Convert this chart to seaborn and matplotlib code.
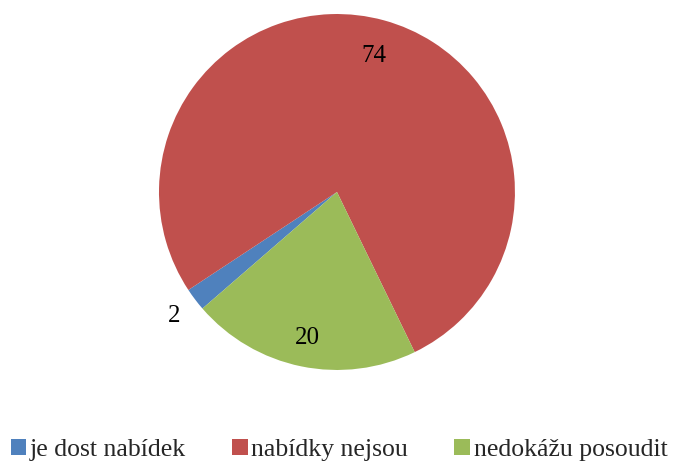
import numpy as np
import matplotlib
matplotlib.use("Agg")
import matplotlib.pyplot as plt
import seaborn as sns

# Data
kategorie = ['je dost nabídek', 'nabídky nejsou', 'nedokážu posoudit']
hodnoty = [2, 74, 20]
barvy = ['#4F81BD', '#C0504D', '#9BBB59']

sns.set_theme(style="white")
plt.rcParams['font.family'] = ['Liberation Serif', 'DejaVu Serif']

fig = plt.figure(figsize=(6.78, 4.65), dpi=100)
ax = fig.add_axes([0.2345, 0.2043, 0.525, 0.7656])

wedges, _ = ax.pie(hodnoty, colors=barvy, startangle=220.9, counterclock=False,
                   radius=1, wedgeprops=dict(linewidth=0))

# label distances (fraction of radius) for each slice
vzdal = [1.15, 0.79, 0.84]
for w, v, d in zip(wedges, hodnoty, vzdal):
    mid = np.deg2rad((w.theta1 + w.theta2) / 2)
    ax.text(d * np.cos(mid), d * np.sin(mid), str(v), ha='center', va='center',
            fontsize=18, color='black')

ax.set_xlim(-1, 1)
ax.set_ylim(-1, 1)
ax.set_aspect('equal')
ax.axis('off')

fig.legend(wedges, kategorie, loc='center', bbox_to_anchor=(0.5, 0.032), ncol=3,
           frameon=False, fontsize=18.5, handlelength=0.6, handleheight=0.6,
           handletextpad=0.15, columnspacing=1.8)

fig.savefig('out.png', dpi=100)
